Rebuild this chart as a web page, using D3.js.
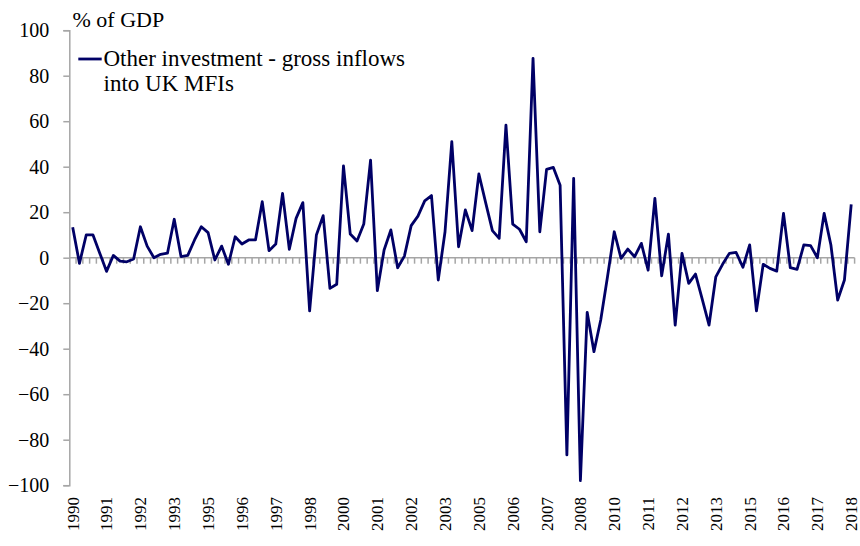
<!DOCTYPE html>
<html>
<head>
<meta charset="utf-8">
<script src="https://cdn.jsdelivr.net/npm/d3@7"></script>
<style>
  html, body { margin: 0; padding: 0; background: #ffffff; }
  svg { display: block; }
  svg text { font-family: "Liberation Serif", "DejaVu Serif", serif !important; fill: #000; }
</style>
</head>
<body>
<svg id="chart" width="860" height="546"></svg>
<script>
// ---- data ----
const startYear = 1990;
const endYear = 2018;
const quarterNames = ["Q1", "Q2", "Q3", "Q4"];
const seriesName = ["Other investment - gross inflows", "into UK MFIs"];
const yLabel = "% of GDP";
const values = [
  13.4, -2.5, 10, 10, 2, -6, 1, -1.5, -1.8, -0.6,
  13.6, 5.1, 0, 1.5, 2, 16.9, 0.5, 1, 7.8, 13.6,
  11, -1, 5.1, -2.9, 9.2, 6, 7.8, 7.8, 24.6, 3.1,
  6, 28.3, 3.7, 17.3, 24.2, -23.4, 10, 18.5, -13.5, -11.7,
  40.4, 10.4, 7.3, 14.8, 42.9, -14.5, 3.4, 12.2, -4.4, 0.7,
  14.1, 18.3, 25, 27.3, -9.8, 11.4, 51, 4.8, 21, 11.9,
  36.8, 24.2, 11.9, 8.5, 58.3, 14.8, 12.5, 7, 87.6, 11.4,
  38.8, 39.7, 31.9, -86.7, 34.9, -98, -24, -41.3, -27.4, -8.4,
  11.4, -0.3, 3.8, 0.4, 6.3, -5.5, 26.1, -8, 10.4, -29.6,
  1.9, -11.3, -7.2, -18.3, -29.6, -8.4, -2.9, 1.9, 2.3, -4.2,
  5.6, -23.4, -2.9, -4.7, -5.9, 19.5, -4.4, -5.1, 5.6, 5.3,
  0, 19.5, 5.6, -18.6, -9.8, 23.4
];
const yTicks = [-100, -80, -60, -40, -20, 0, 20, 40, 60, 80, 100];
const labelEvery = 5;

// categories: every quarter from startYear Q1 to endYear Q4
const categories = [];
for (let yr = startYear; yr <= endYear; yr++) {
  quarterNames.forEach(q => categories.push(yr + " " + q));
}
const data = categories.map((c, i) => ({ c, v: values[i] }));

// ---- layout ----
const serif = '"Liberation Serif", "DejaVu Serif", serif';
const svg = d3.select("#chart");
const x = d3.scaleBand().domain(categories).range([69.3, 854.6]).padding(0);
const y = d3.scaleLinear().domain([-100, 100]).range([485.2, 30.2]);
const axisColor = "#a6a6a6";

// y axis
const yAxis = d3.axisLeft(y).tickValues(yTicks).tickSize(6).tickPadding(14)
  .tickFormat(d3.format("d"));
const gy = svg.append("g").attr("transform", "translate(69.3,0)").call(yAxis);
gy.attr("font-family", null).attr("font-size", null);
gy.select(".domain").attr("stroke", axisColor).attr("stroke-width", 1.5);
gy.selectAll(".tick line").attr("stroke", axisColor).attr("stroke-width", 1.5);
gy.selectAll(".tick text")
  .style("font-family", serif)
  .style("font-size", "20px")
  .attr("fill", "#000");

// zero line with category ticks
const y0 = y(0);
const gx = svg.append("g");
gx.append("line")
  .attr("x1", x.range()[0]).attr("x2", x.range()[1])
  .attr("y1", y0).attr("y2", y0)
  .attr("stroke", axisColor).attr("stroke-width", 1.5);
const boundaries = categories.map(c => x(c)).concat([x.range()[1]]);
gx.selectAll("line.tk").data(boundaries.slice(1)).join("line")
  .attr("class", "tk")
  .attr("x1", d => d).attr("x2", d => d)
  .attr("y1", y0).attr("y2", y0 + 6)
  .attr("stroke", axisColor).attr("stroke-width", 1.5);

// x labels (every 5th quarter, at category centre, rotated)
const labelled = categories.filter((c, i) => i % labelEvery === 0);
svg.append("g").selectAll("text").data(labelled).join("text")
  .attr("transform", d => `translate(${x(d) + x.bandwidth() / 2},497) rotate(-90)`)
  .attr("text-anchor", "end")
  .attr("dy", "0.35em")
  .style("font-family", serif)
  .style("font-size", "17px")
  .text(d => d.slice(0, 4));

// line
const line = d3.line()
  .x(d => x(d.c) + x.bandwidth() / 2)
  .y(d => y(d.v));
svg.append("path").datum(data)
  .attr("d", line)
  .attr("fill", "none")
  .attr("stroke", "#000066")
  .attr("stroke-width", 2.8)
  .attr("stroke-linejoin", "round");

// y label
svg.append("text").attr("x", 72.5).attr("y", 26.5)
  .style("font-family", serif).style("font-size", "22px").text(yLabel);

// legend
svg.append("line")
  .attr("x1", 78.3).attr("x2", 101.7).attr("y1", 59).attr("y2", 59)
  .attr("stroke", "#000066").attr("stroke-width", 2.8);
svg.append("g").selectAll("text").data(seriesName).join("text")
  .attr("x", 103.5)
  .attr("y", (d, i) => 66 + i * 25)
  .style("font-family", serif).style("font-size", "23px")
  .text(d => d);
</script>
</body>
</html>
